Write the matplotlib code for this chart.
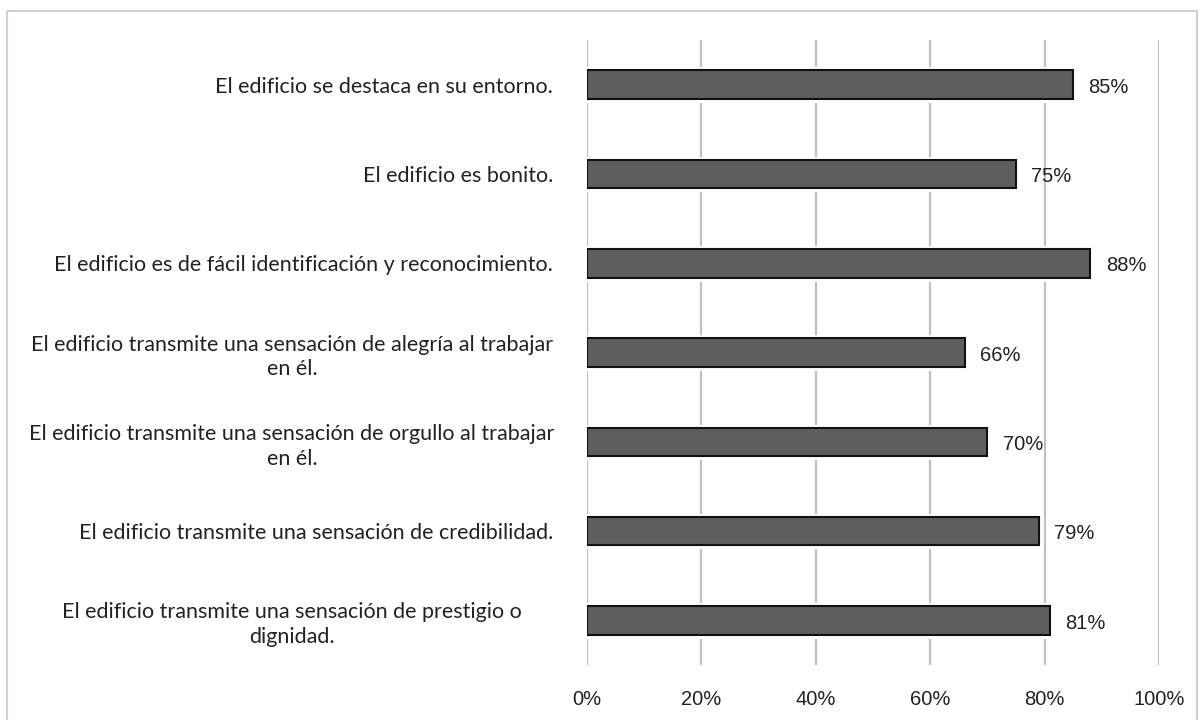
import matplotlib
matplotlib.use("Agg")
import matplotlib.pyplot as plt
import matplotlib.transforms as mtransforms
import matplotlib.patheffects as pe
from matplotlib.patches import Rectangle

categories = [
    "El edificio se destaca en su entorno.",
    "El edificio es bonito.",
    "El edificio es de fácil identificación y reconocimiento.",
    "El edificio transmite una sensación de alegría al trabajar\nen él.",
    "El edificio transmite una sensación de orgullo al trabajar\nen él.",
    "El edificio transmite una sensación de credibilidad.",
    "El edificio transmite una sensación de prestigio o\ndignidad.",
]
values = [0.85, 0.75, 0.88, 0.66, 0.70, 0.79, 0.81]
value_labels = ["85%", "75%", "88%", "66%", "70%", "79%", "81%"]
xticks = [0, 0.2, 0.4, 0.6, 0.8, 1.0]
xtick_labels = ["0%", "20%", "40%", "60%", "80%", "100%"]

fig = plt.figure(figsize=(12.04, 7.2), dpi=100)
fig.patches.append(Rectangle((0.006, -0.01), 0.988, 0.995, transform=fig.transFigure,
                             fill=False, edgecolor="#d0d0d0", linewidth=1.5))
ax = fig.add_axes([587/1204, 1 - 665/720, (1159-587)/1204, (665-40)/720])

ypos = list(range(len(categories)))
bars = ax.barh(ypos, values, height=0.32, color="#5e5e5e", edgecolor="#111111",
               linewidth=1.5, zorder=3)
for b in bars:
    b.set_path_effects([pe.Stroke(linewidth=5, foreground="white"), pe.Normal()])

ax.set_ylim(len(categories) - 0.5, -0.5)
ax.set_xlim(0, 1.0)
ax.set_xticks(xticks)
ax.set_xticklabels(xtick_labels, fontsize=14.5, family="Liberation Sans", color="#222222")
ax.set_yticks(ypos)
ax.set_yticklabels(categories, fontsize=15.5, family="Lato", color="#222222",
                   multialignment="center", linespacing=1.3)
ax.tick_params(axis="both", length=0)
ax.tick_params(axis="x", pad=18)
ax.tick_params(axis="y", pad=24.5)
# wrapped labels are centred as a block further left
for lbl in ax.get_yticklabels():
    if "\n" in lbl.get_text():
        lbl.set_horizontalalignment("center")
        lbl.set_transform(lbl.get_transform() +
                          mtransforms.ScaledTranslation(-261/100, 0, fig.dpi_scale_trans))

ax.grid(axis="x", color="#c0c0c0", linewidth=1.6, zorder=0)
ax.set_axisbelow(True)
for s in ax.spines.values():
    s.set_visible(False)

for y, v, t in zip(ypos, values, value_labels):
    ax.annotate(t, (v, y), xytext=(11, -2), textcoords="offset points",
                va="center", ha="left", fontsize=14.5, family="Liberation Sans",
                color="#222222")

fig.savefig("out.png", dpi=100)
